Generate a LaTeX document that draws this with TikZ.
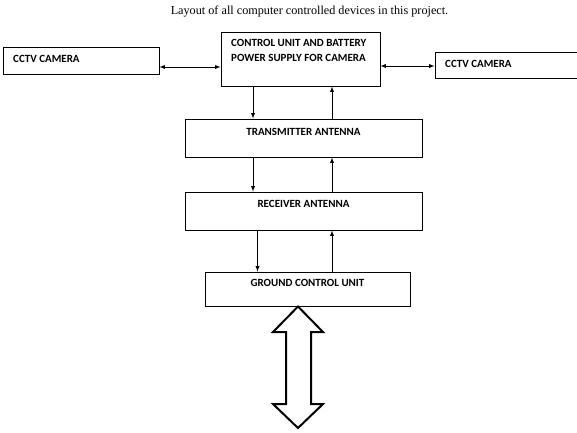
\documentclass[tikz,border=0pt]{standalone}
\usepackage{fontspec}
\setmainfont{Liberation Serif}
\newfontfamily\boxfont{Carlito}

\tikzstyle{unit}=[rectangle, draw, line width=0.9pt, inner sep=0pt]
\tikzstyle{caption}=[font=\boxfont\bfseries\fontsize{11}{15}\selectfont, inner sep=0pt]
\tikzstyle{link}=[line width=0.9pt, -latex]

\begin{document}
\begin{tikzpicture}[x=1pt, y=-1pt]
\useasboundingbox (0,0) rectangle (577,432);
\node[font=\fontsize{12.2}{14}\selectfont, inner sep=0pt](title) at (309.5, 12) {Layout of all computer controlled devices in this project.};

\node[unit, minimum width=156, minimum height=27](lcam) at (81, 60.5) {};
\node[unit, minimum width=159, minimum height=54](ctrl) at (300.5, 59) {};
\node[unit, minimum width=142, minimum height=26](rcam) at (506, 65) {};
\node[unit, minimum width=237, minimum height=38](tx) at (303.5, 138) {};
\node[unit, minimum width=237, minimum height=38](rx) at (303.5, 211) {};
\node[unit, minimum width=205, minimum height=34](gnd) at (307.5, 289) {};

\node[caption, anchor=west](lcamtext) at (13, 59) {CCTV CAMERA};
\node[caption, anchor=north west, align=left](ctrltext) at (231, 39.5) {CONTROL UNIT AND BATTERY\\POWER SUPPLY FOR CAMERA};
\node[caption, anchor=west](rcamtext) at (445, 63.5) {CCTV CAMERA};
\node[caption](txtext) at ([yshift=-13]tx.north) {TRANSMITTER ANTENNA};
\node[caption](rxtext) at ([yshift=-12]rx.north) {RECEIVER ANTENNA};
\node[caption](gndtext) at ([yshift=-11]gnd.north) {GROUND CONTROL UNIT};

\begin{scope}[every path/.style={link}]
       \draw[latex-latex] ([yshift=-6.5]lcam.east) -- ([yshift=-6.5]lcam.east -| ctrl.west);
       \draw[latex-latex] ([yshift=-1]rcam.west) -- ([yshift=-1]rcam.west -| ctrl.east);
       \draw ([xshift=-47.5]ctrl.south) -- ([xshift=-47.5]ctrl.south |- tx.north);
       \draw ([xshift=28.5]tx.north) -- ([xshift=28.5]tx.north |- ctrl.south);
       \draw ([xshift=-50.5]tx.south) -- ([xshift=-50.5]tx.south |- rx.north);
       \draw ([xshift=28.5]rx.north) -- ([xshift=28.5]rx.north |- tx.south);
       \draw ([xshift=-46]rx.south) -- ([xshift=-46]rx.south |- gnd.north);
       \draw ([xshift=24.5]gnd.north) -- ([xshift=24.5]gnd.north |- rx.south);
\end{scope}

% big two-way arrow under the ground unit
\draw[line width=2pt, line join=miter, fill=white] (298,306.5) -- (323,332) -- (311,332) -- (311,404) -- (323,404)
       -- (298,428) -- (273,404) -- (286,404) -- (286,332) -- (273,332) -- cycle;
\end{tikzpicture}
\end{document}
